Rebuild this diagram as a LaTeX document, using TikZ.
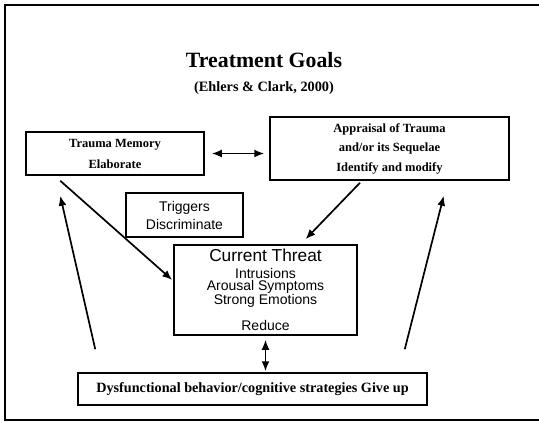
\documentclass[tikz,border=0pt]{standalone}
\usepackage{fontspec}
\setmainfont{Liberation Serif}
\setsansfont{Liberation Sans}
\usepackage{tikz}
\usetikzlibrary{arrows.meta, calc, positioning}

\tikzset{
    goalbox/.style={draw, line width=1.5pt, inner sep=0pt, align=center},
    serifbox/.style={goalbox, font=\bfseries\fontsize{12.5}{15}\selectfont},
    sansbox/.style={goalbox, font=\sffamily\fontsize{14}{18}\selectfont},
    arr/.style={line width=1.7pt, -{Latex[length=10pt,width=8pt]}},
    darr/.style={line width=1.7pt, {Latex[length=10pt,width=8pt]}-{Latex[length=10pt,width=8pt]}}
}

\begin{document}
\begin{tikzpicture}[x=1pt, y=-1pt]
    \useasboundingbox (0,0) rectangle (539,423);

    % Frame
    \draw[line width=2pt] (545,5) -| (5,420) -- (545,420);

    % Title
    \node[font=\bfseries\fontsize{21.8}{24}\selectfont] (title) at (264,60) {Treatment Goals};
    \node[font=\bfseries\fontsize{14.3}{16}\selectfont] (cite) at (264,88) {(Ehlers \& Clark, 2000)};

    % Boxes
    \node[serifbox, minimum width=178pt, minimum height=43pt] (TM) at (115,153.5)
        {Trauma Memory\\[6pt]Elaborate};
    \node[serifbox, minimum width=239pt, minimum height=63pt] (AP) at (389.5,148.5)
        {Appraisal of Trauma\\[4.5pt]and/or its Sequelae\\[4.5pt]Identify and modify};
    \node[sansbox, minimum width=117pt, minimum height=44pt] (TR) at (184.5,215)
        {Triggers\\Discriminate};
    \node[sansbox, minimum width=183pt, minimum height=90pt, font=\sffamily\fontsize{14}{12.5}\selectfont] (CT) at (265.5,290)
        {{\fontsize{17.3}{17}\selectfont Current Threat}\\[4pt]Intrusions\\Arousal Symptoms\\Strong Emotions\\[12pt]Reduce};
    \node[serifbox, minimum width=349pt, minimum height=32pt, font=\bfseries\fontsize{14.2}{16}\selectfont] (DB) at (252.5,389)
        {Dysfunctional behavior/cognitive strategies Give up};

    % Free ends of the connectors
    \coordinate (tm_out) at ($(TM.south west)+(35,5)$);
    \coordinate (ct_in) at ($(CT.west)+(-1,-10)$);
    \coordinate (ap_out) at ($(AP.south)+(-29.5,2)$);
    \coordinate (ct_top) at ($(CT.north)+(40,-5)$);
    \coordinate (db_left) at ($(DB.north west)+(18,-23)$);
    \coordinate (tm_back) at ($(TM.south west)+(35,20)$);
    \coordinate (db_right) at ($(DB.north east)+(-23,-23)$);
    \coordinate (ap_back) at ($(AP.south east)+(-66,15)$);

    % Connectors
    \draw[darr, shorten <=7pt, shorten >=5pt] (TM.east) -- (AP.west |- TM.east);
    \draw[arr] (tm_out) -- (ct_in);
    \draw[arr] (ap_out) -- (ct_top);
    \draw[darr, shorten <=4pt, shorten >=1pt] (CT.south) -- (CT.south |- DB.north);
    \draw[arr] (db_left) -- (tm_back);
    \draw[arr] (db_right) -- (ap_back);

\end{tikzpicture}
\end{document}
